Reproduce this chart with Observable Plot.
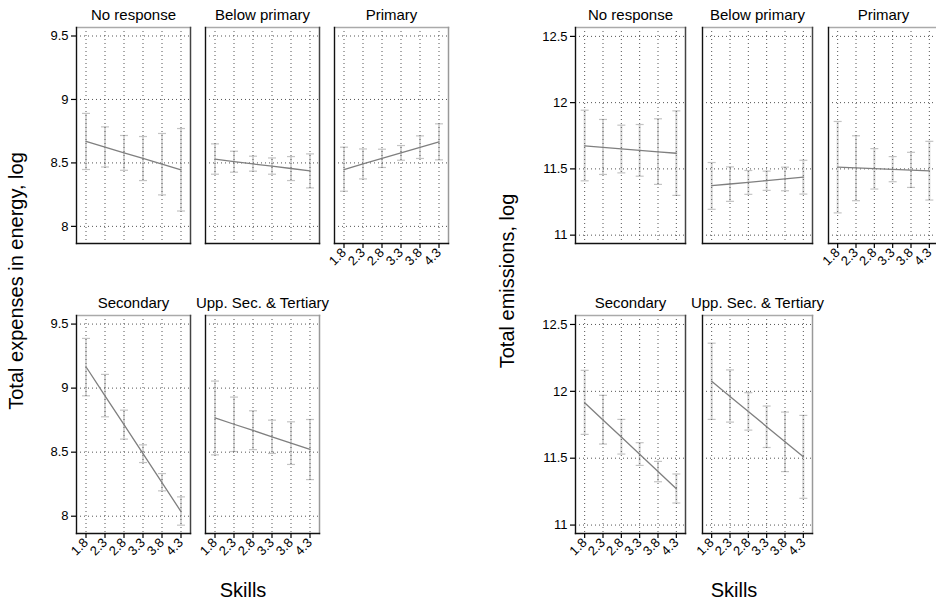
<!DOCTYPE html>
<html><head><meta charset="utf-8">
<script src="https://cdn.jsdelivr.net/npm/d3@7"></script>
<script src="https://cdn.jsdelivr.net/npm/@observablehq/plot@0.6"></script>
<style>
body{margin:0;background:#fff;}
#wrap{position:relative;width:936px;height:601px;overflow:hidden;font-family:"Liberation Sans",Arial,sans-serif;color:#000;}
.fac{position:absolute;}
.fac svg{max-width:none !important;display:block;}
.ytitle{position:absolute;font-size:20px;white-space:nowrap;transform:translate(-50%,-50%) rotate(-90deg);}
.xtitle{position:absolute;font-size:20px;white-space:nowrap;transform:translate(-50%,-50%);}
</style></head><body><div id="wrap"></div>
<script>
// ---- data ----
const skills = [1.8, 2.3, 2.8, 3.3, 3.8, 4.3];
const educationLevels = ["No response", "Below primary", "Primary", "Secondary", "Upp. Sec. & Tertiary"];
const energyTicks = [8, 8.5, 9, 9.5];
const emissionsTicks = [11, 11.5, 12, 12.5];
const yTitles = ["Total expenses in energy, log", "Total emissions, log"];
const xTitle = "Skills";

const energyEst = [
  [8.67, 8.625, 8.58, 8.535, 8.49, 8.445],
  [8.53, 8.51, 8.492, 8.475, 8.456, 8.437],
  [8.448, 8.492, 8.535, 8.579, 8.622, 8.666],
  [9.167, 8.94, 8.715, 8.488, 8.262, 8.036],
  [8.768, 8.718, 8.67, 8.62, 8.57, 8.521]
];
const energyLo = [
  [8.448, 8.468, 8.442, 8.361, 8.248, 8.121],
  [8.411, 8.427, 8.435, 8.411, 8.361, 8.303],
  [8.277, 8.374, 8.464, 8.521, 8.535, 8.524],
  [8.94, 8.776, 8.602, 8.419, 8.198, 7.93],
  [8.479, 8.505, 8.52, 8.49, 8.404, 8.286]
];
const energyHi = [
  [8.89, 8.784, 8.716, 8.708, 8.732, 8.771],
  [8.65, 8.592, 8.553, 8.539, 8.55, 8.571],
  [8.624, 8.61, 8.608, 8.637, 8.713, 8.808],
  [9.388, 9.107, 8.828, 8.557, 8.333, 8.151],
  [9.055, 8.93, 8.823, 8.75, 8.737, 8.755]
];
const emissionsEst = [
  [11.673, 11.662, 11.651, 11.64, 11.629, 11.618],
  [11.373, 11.386, 11.399, 11.412, 11.425, 11.438],
  [11.513, 11.507, 11.502, 11.496, 11.49, 11.485],
  [11.915, 11.786, 11.658, 11.529, 11.401, 11.272],
  [12.075, 11.962, 11.849, 11.736, 11.623, 11.51]
];
const emissionsLo = [
  [11.41, 11.458, 11.47, 11.445, 11.383, 11.30],
  [11.195, 11.255, 11.308, 11.338, 11.335, 11.31],
  [11.168, 11.26, 11.348, 11.403, 11.36, 11.265],
  [11.678, 11.606, 11.531, 11.446, 11.324, 11.165],
  [11.79, 11.77, 11.71, 11.58, 11.40, 11.20]
];
const emissionsHi = [
  [11.943, 11.873, 11.83, 11.835, 11.878, 11.938],
  [11.548, 11.515, 11.488, 11.483, 11.513, 11.565],
  [11.858, 11.75, 11.653, 11.593, 11.625, 11.708],
  [12.157, 11.97, 11.79, 11.616, 11.476, 11.382],
  [12.36, 12.16, 11.99, 11.89, 11.845, 11.82]
];

// ---- layout ----
const FONT = '"Liberation Sans", Arial, sans-serif';
const M = {l: 46, r: 8, t: 32, b: 50};
const wrap = document.getElementById("wrap");
const cap = {draw(ctx) { ctx.moveTo(-4, 0); ctx.lineTo(4, 0); }};

function facet({est, lo, hi, title, yDomain, yTicks, showY, showX, w, h, lastInRow}) {
  const data = skills.map((s, i) => ({skill: s, est: est[i], lo: lo[i], hi: hi[i]}));
  return Plot.plot({
    width: w + M.l + M.r, height: h + M.t + M.b,
    marginLeft: M.l, marginRight: M.r, marginTop: M.t, marginBottom: M.b,
    style: {fontFamily: FONT, fontSize: "13px", color: "#000", background: "transparent", overflow: "visible", maxWidth: "none"},
    x: {domain: [1.55, 4.55], axis: null},
    y: {domain: yDomain, axis: null},
    marks: [
      Plot.ruleX(data, {x: "skill", y1: "lo", y2: "hi", stroke: "#d6d6d6", strokeWidth: 2}),
      Plot.dot(data, {x: "skill", y: "lo", symbol: cap, stroke: "#c4c4c4", fill: "none", strokeWidth: 1.2}),
      Plot.dot(data, {x: "skill", y: "hi", symbol: cap, stroke: "#c4c4c4", fill: "none", strokeWidth: 1.2}),
      Plot.gridX({ticks: skills, stroke: "#555", strokeOpacity: 1, strokeDasharray: "1,3"}),
      Plot.gridY({ticks: yTicks, stroke: "#555", strokeOpacity: 1, strokeDasharray: "1,3"}),
      Plot.line(data, {x: "skill", y: "est", stroke: "#7f7f7f", strokeWidth: 1.3}),
      Plot.frame({anchor: "top", stroke: "#aaa", strokeWidth: 1.5}),
      Plot.frame({anchor: "right", stroke: lastInRow ? "#999" : "#444", strokeWidth: 1.5}),
      Plot.frame({anchor: "left", stroke: "#111", strokeWidth: 1.4}),
      Plot.frame({anchor: "bottom", stroke: "#111", strokeWidth: 1.4}),
      showY ? Plot.axisY({ticks: yTicks, tickFormat: d => String(d), tickSize: 5, tickPadding: 3, fontSize: 13, stroke: "#000", strokeWidth: 1.2, label: null}) : null,
      showX ? Plot.axisX({ticks: skills, tickFormat: d3.format(".1f"), tickSize: 5, tickPadding: 2, tickRotate: -45, fontSize: 13, stroke: "#000", strokeWidth: 1.2, label: null}) : null,
      Plot.text([title], {frameAnchor: "top", dy: -12, fontSize: 15, lineAnchor: "middle", fill: "#000"})
    ]
  });
}

function place(el, left, top, w, h) {
  const d = document.createElement("div");
  d.className = "fac";
  d.style.left = (left - M.l) + "px";
  d.style.top = (top - M.t) + "px";
  d.style.width = (w + M.l + M.r) + "px";
  d.style.height = (h + M.t + M.b) + "px";
  d.appendChild(el);
  wrap.appendChild(d);
}

const charts = [
  {est: energyEst, lo: energyLo, hi: energyHi, yDomain: [7.865, 9.567], yTicks: energyTicks,
   cols: [76, 205, 334], w: 114, ytx: 16, xtx: 243, title: yTitles[0]},
  {est: emissionsEst, lo: emissionsLo, hi: emissionsHi, yDomain: [10.937, 12.567], yTicks: emissionsTicks,
   cols: [575, 702, 828], w: 110, ytx: 507, xtx: 734, title: yTitles[1]}
];
const rows = [{top: 27, h: 216}, {top: 315, h: 218}];

for (const c of charts) {
  educationLevels.forEach((lvl, i) => {
    const r = i < 3 ? 0 : 1, col = i < 3 ? i : i - 3;
    const el = facet({
      est: c.est[i], lo: c.lo[i], hi: c.hi[i], title: lvl,
      yDomain: c.yDomain, yTicks: c.yTicks,
      showY: col === 0, showX: r === 1 || col === 2,
      w: c.w, h: rows[r].h, lastInRow: (r === 0 && col === 2) || (r === 1 && col === 1)
    });
    place(el, c.cols[col], rows[r].top, c.w, rows[r].h);
  });
  const yt = document.createElement("div");
  yt.className = "ytitle"; yt.textContent = c.title;
  yt.style.left = c.ytx + "px"; yt.style.top = "281px";
  wrap.appendChild(yt);
  const xt = document.createElement("div");
  xt.className = "xtitle"; xt.textContent = xTitle;
  xt.style.left = c.xtx + "px"; xt.style.top = "590px";
  wrap.appendChild(xt);
}
</script>
</body></html>
